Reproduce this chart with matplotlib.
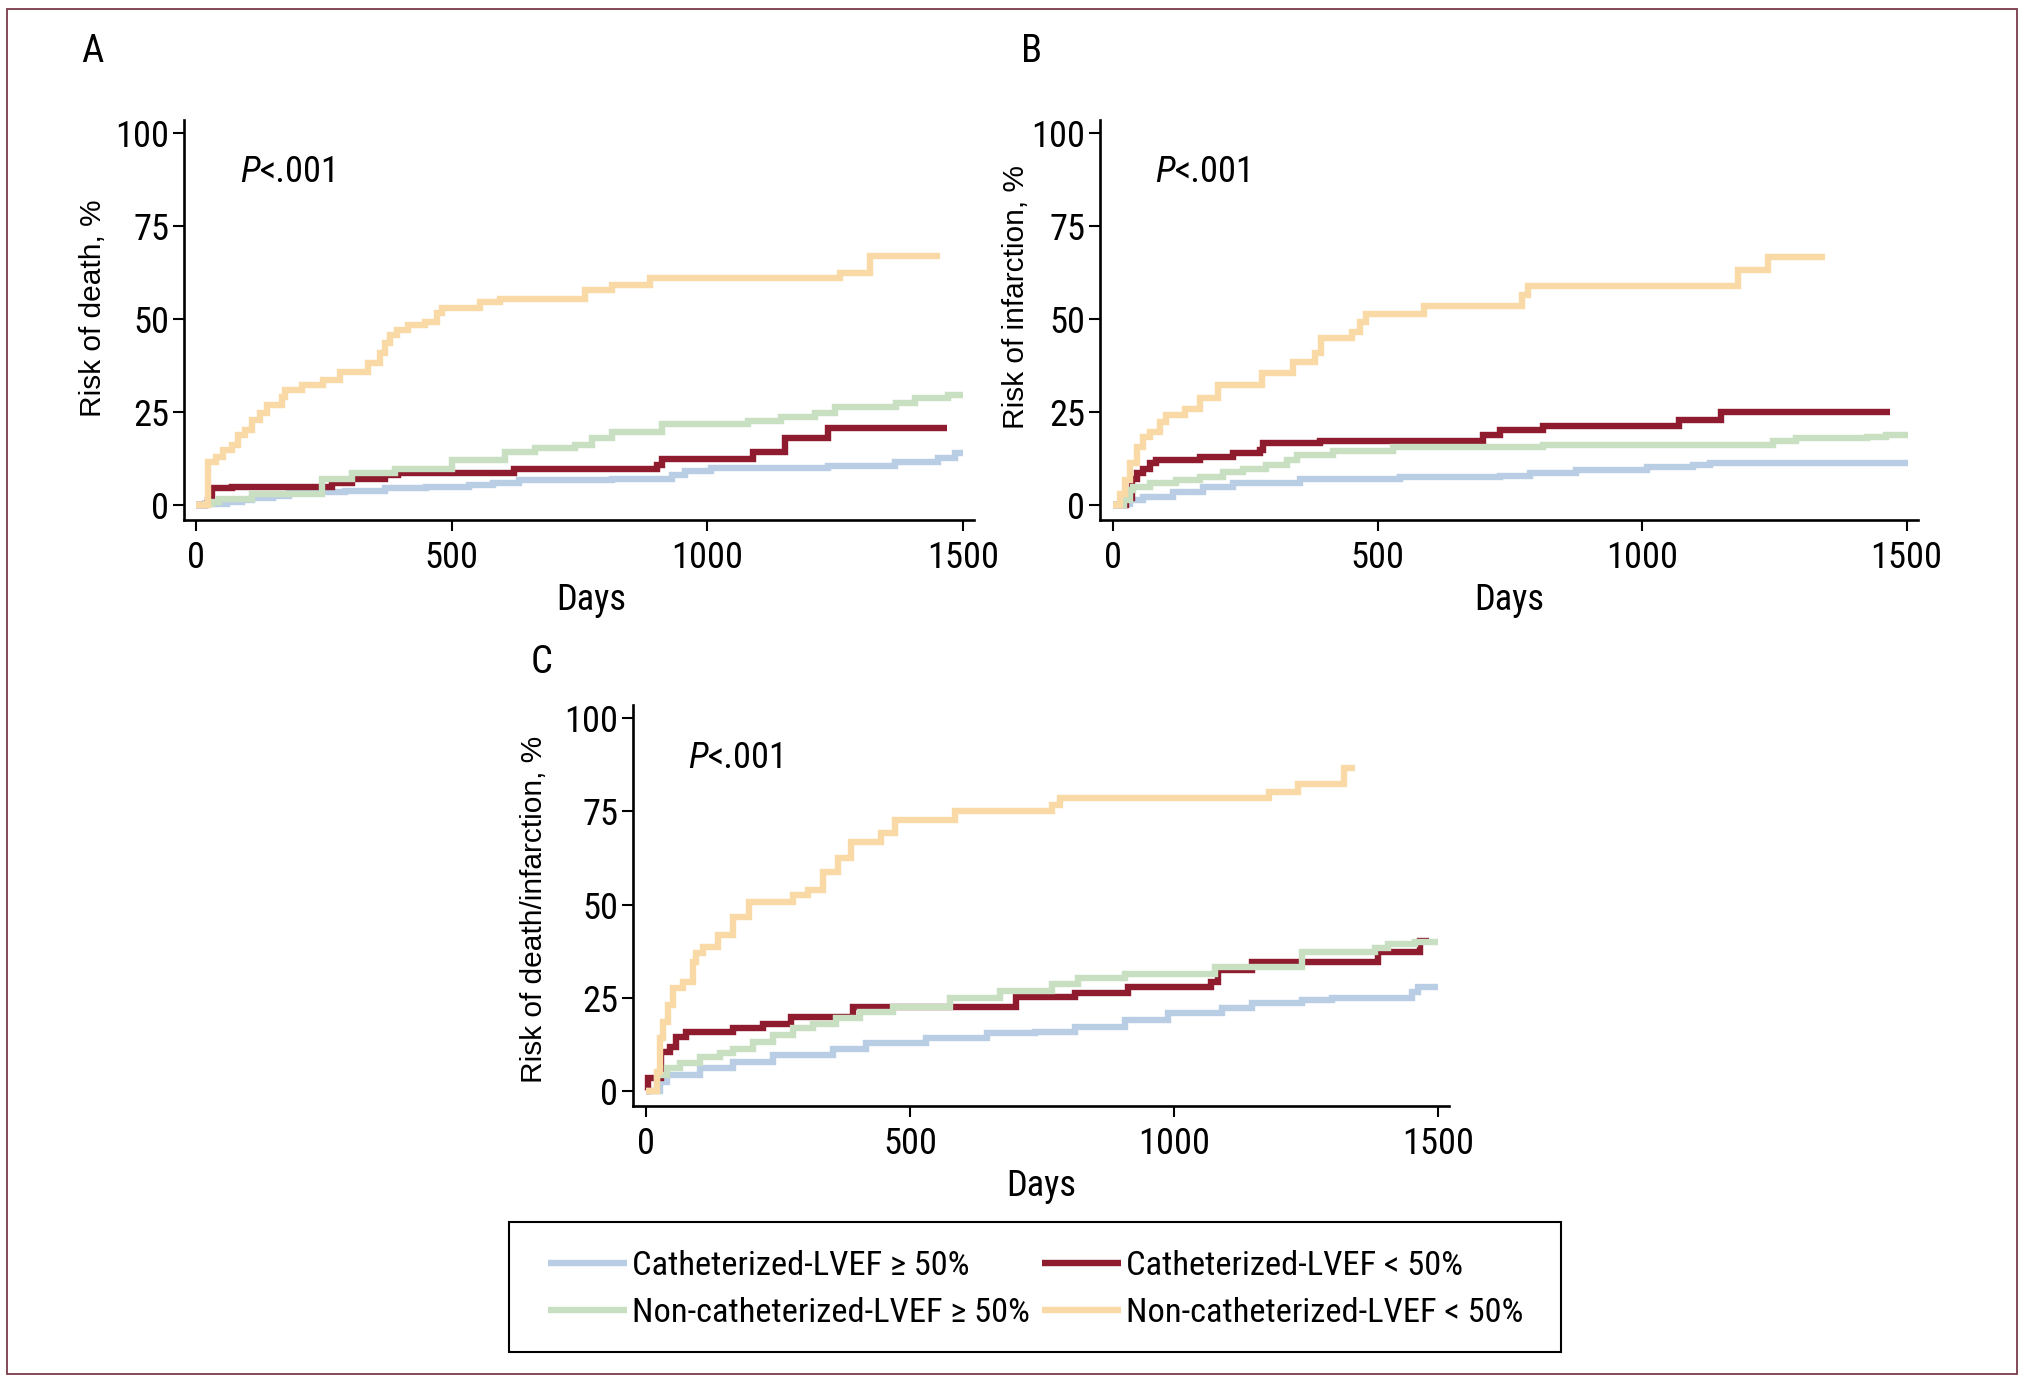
import matplotlib
matplotlib.use("Agg")
import matplotlib.pyplot as plt
from matplotlib import font_manager as fm
from matplotlib.font_manager import FontProperties
from matplotlib.textpath import TextPath
from matplotlib.lines import Line2D
from matplotlib.patches import Rectangle

# colours of the four groups
c_blue = '#b9cde5'
c_red = '#8e1b2e'
c_green = '#c9dfc1'
c_yellow = '#f9d9a6'

labels = ['Catheterized-LVEF \u2265 50%', 'Catheterized-LVEF < 50%',
          'Non-catheterized-LVEF \u2265 50%', 'Non-catheterized-LVEF < 50%']

xticks = [0, 500, 1000, 1500]
yticks = [0, 25, 50, 75, 100]

# ---- Panel A: risk of death ----
a_blue_t = [0, 20, 60, 90, 109, 150, 181, 240, 292, 370, 450, 533, 580, 631, 813, 930, 956, 1008, 1237, 1367, 1452, 1484, 1500]
a_blue_y = [0, 0.5, 1.0, 1.5, 1.9, 2.5, 3.3, 3.6, 4.0, 4.6, 5.0, 5.5, 6.0, 6.8, 7.2, 8.1, 9.3, 10.1, 10.5, 11.7, 12.6, 14.1, 14.1]
a_red_t = [0, 18, 24, 31, 70, 265, 305, 370, 396, 621, 901, 911, 1090, 1152, 1237, 1468]
a_red_y = [0, 0.5, 1.4, 4.6, 5.0, 5.9, 7.0, 8.1, 8.6, 9.7, 10.8, 12.4, 14.4, 18.0, 20.7, 20.7]
a_green_t = [0, 18, 31, 44, 109, 246, 305, 389, 500, 604, 663, 741, 774, 813, 911, 1080, 1145, 1211, 1250, 1370, 1406, 1471, 1501]
a_green_y = [0, 0.5, 1.0, 1.8, 3.1, 7.2, 8.6, 9.9, 12.2, 14.4, 15.3, 16.2, 18.0, 19.8, 21.8, 22.7, 23.8, 24.7, 26.3, 27.4, 28.7, 29.5, 29.5]
a_yellow_t = [0, 24, 40, 53, 70, 83, 96, 109, 125, 138, 168, 174, 207, 249, 282, 337, 360, 370, 379, 393, 415, 448, 471, 481, 555, 595, 761, 813, 888, 1259, 1318, 1455]
a_yellow_y = [0, 11.7, 13.0, 14.8, 16.2, 18.9, 20.2, 22.9, 24.7, 26.9, 29.2, 30.9, 32.3, 33.6, 35.9, 38.1, 40.8, 43.5, 45.7, 47.0, 48.4, 49.3, 51.5, 52.9, 54.6, 55.5, 57.8, 59.1, 60.9, 62.4, 66.9, 66.9]

# ---- Panel B: risk of infarction ----
b_blue_t = [0, 20, 32, 57, 114, 171, 227, 353, 542, 731, 788, 876, 1009, 1097, 1128, 1503]
b_blue_y = [0, 0.5, 1.4, 2.3, 3.6, 5.0, 6.1, 7.0, 7.5, 7.9, 8.6, 9.5, 10.2, 10.8, 11.3, 11.3]
b_red_t = [0, 25, 35, 45, 57, 70, 82, 164, 227, 278, 284, 391, 700, 731, 813, 1069, 1150, 1469]
b_red_y = [0, 2.0, 7.0, 8.6, 9.9, 11.3, 12.2, 12.9, 14.0, 15.0, 16.8, 17.3, 18.9, 20.2, 21.3, 22.9, 25.1, 25.1]
b_green_t = [0, 20, 32, 38, 70, 120, 164, 208, 246, 290, 328, 347, 416, 530, 813, 1248, 1292, 1425, 1462, 1503]
b_green_y = [0, 1.5, 4.1, 5.0, 5.9, 6.8, 7.7, 9.0, 9.9, 10.8, 12.2, 13.5, 14.7, 15.6, 16.2, 17.3, 18.0, 18.4, 18.9, 18.9]
b_yellow_t = [0, 13, 23, 32, 45, 57, 70, 89, 101, 136, 164, 199, 281, 341, 382, 394, 451, 467, 479, 587, 773, 785, 1182, 1239, 1346]
b_yellow_y = [0, 3.2, 6.8, 11.3, 15.7, 18.4, 19.8, 22.4, 24.2, 26.0, 28.7, 32.3, 35.4, 38.5, 40.8, 44.8, 46.6, 49.3, 51.3, 53.6, 56.4, 58.9, 63.2, 66.7, 66.7]

# ---- Panel C: risk of death/infarction ----
c_blue_t = [0, 26, 39, 102, 165, 240, 354, 417, 531, 645, 737, 812, 907, 989, 1090, 1147, 1242, 1299, 1450, 1463, 1500]
c_blue_y = [0, 2.5, 4.3, 6.1, 7.9, 9.7, 11.4, 12.8, 14.1, 15.5, 15.9, 17.2, 19.0, 20.8, 22.2, 23.5, 24.4, 25.0, 26.5, 28.0, 28.0]
c_red_t = [0, 4, 29, 45, 57, 76, 165, 222, 275, 392, 701, 813, 913, 1071, 1084, 1147, 1387, 1466, 1482]
c_red_y = [0, 3.4, 10.5, 11.9, 14.6, 15.9, 16.8, 18.1, 19.9, 22.6, 25.3, 26.2, 28.0, 29.3, 32.4, 34.5, 37.3, 40.2, 40.2]
c_green_t = [0, 20, 39, 64, 102, 140, 165, 203, 240, 278, 316, 360, 405, 468, 575, 670, 768, 819, 907, 1078, 1242, 1381, 1406, 1456, 1500]
c_green_y = [0, 4.3, 6.1, 7.4, 9.2, 10.1, 11.4, 13.2, 15.0, 16.8, 18.1, 19.5, 21.3, 22.6, 24.9, 26.8, 28.6, 30.4, 31.3, 33.3, 37.2, 38.3, 39.3, 40.0, 40.0]
c_yellow_t = [0, 20, 26, 32, 42, 51, 70, 89, 95, 108, 136, 165, 196, 278, 307, 335, 364, 389, 446, 471, 585, 768, 784, 1179, 1235, 1321, 1343]
c_yellow_y = [0, 5.2, 14.1, 18.6, 23.1, 27.5, 29.3, 34.7, 36.9, 38.7, 41.8, 46.7, 50.8, 52.5, 53.9, 58.8, 62.4, 66.8, 69.1, 72.7, 75.1, 76.7, 78.6, 80.1, 82.2, 86.5, 86.5]

W, H = 2025, 1383
LW = 4.6
REGULAR = ['Liberation Sans', 'DejaVu Sans']


def pick_narrow():
    # the original uses a condensed grotesque; take whatever condensed face exists
    entries = fm.fontManager.ttflist
    names = {e.name for e in entries}
    for n in ['Liberation Sans Narrow', 'Arial Narrow', 'Roboto Condensed',
              'Noto Sans Condensed', 'Open Sans Condensed', 'DejaVu Sans Condensed']:
        if n in names:
            return {'family': [n, 'DejaVu Sans'], 'stretch': 'normal'}
    for n in ['Liberation Sans', 'Roboto', 'Noto Sans', 'Open Sans', 'DejaVu Sans']:
        for e in entries:
            if e.name == n and e.stretch in ('condensed', 'semi-condensed',
                                             'extra-condensed', 'ultra-condensed'):
                return {'family': [n, 'DejaVu Sans'], 'stretch': e.stretch}
    return {'family': ['Liberation Sans', 'DejaVu Sans'], 'stretch': 'normal'}


NARROW = pick_narrow()

# scale the narrow size so the legend text keeps its width in the original (394 px)
probe = TextPath((0, 0), labels[2], size=100,
                 prop=FontProperties(family=NARROW['family'], stretch=NARROW['stretch']))
FS = min(25, 25 * 394 / (probe.get_extents().width * 25 / 100 * 100 / 72))
NF = dict(family=NARROW['family'], stretch=NARROW['stretch'])
TS = FS * 1.06   # tick labels / axis titles


def px_axes(fig, left, top, right, bottom):
    # axes rectangle from pixel edges (origin top-left)
    return fig.add_axes([left / W, 1 - bottom / H, (right - left) / W, (bottom - top) / H])


def km_panel(ax, curves, xlim, ylim, ylabel, label_y, ylabelpad, ptext_x, days_x=0.5):
    for t, y, col in curves:
        ax.step(t, y, where='post', color=col, lw=LW, solid_joinstyle='miter',
                solid_capstyle='butt')
    ax.set_xlim(*xlim)
    ax.set_ylim(*ylim)
    ax.set_xticks(xticks)
    ax.set_yticks(yticks)
    for s in ['top', 'right']:
        ax.spines[s].set_visible(False)
    for s in ['left', 'bottom']:
        ax.spines[s].set_linewidth(1.9)
    ax.tick_params(length=8, width=1.5, labelsize=TS)
    ax.tick_params(axis='y', pad=2.5)
    ax.tick_params(axis='x', pad=6.5)
    for lab in ax.get_xticklabels() + ax.get_yticklabels():
        lab.set_family(NF['family'])
        lab.set_stretch(NF['stretch'])
    ax.set_xlabel('Days', fontsize=TS, labelpad=4.5, **NF)
    ax.xaxis.label.set_x(days_x)
    ax.set_ylabel(ylabel, family=REGULAR, fontsize=21.5, labelpad=ylabelpad)
    ax.yaxis.label.set_y(label_y)
    tp = ax.text(ptext_x, 84.5, 'P', style='italic', fontsize=TS, va='bottom', **NF)
    ax.annotate('<.001', xy=(1, 0), xycoords=tp, va='bottom', ha='left',
                fontsize=TS, **NF)


fig = plt.figure(figsize=(W / 100, H / 100), dpi=100)

axA = px_axes(fig, 184, 120, 974, 519.6)
km_panel(axA, [(a_blue_t, a_blue_y, c_blue), (a_red_t, a_red_y, c_red),
               (a_green_t, a_green_y, c_green), (a_yellow_t, a_yellow_y, c_yellow)],
         (-23.5, 1521.6), (-3.8, 103.4), 'Risk of death, %', 0.53, 6, 86, days_x=0.515)

axB = px_axes(fig, 1100, 120, 1918, 519.6)
km_panel(axB, [(b_blue_t, b_blue_y, c_blue), (b_red_t, b_red_y, c_red),
               (b_green_t, b_green_y, c_green), (b_yellow_t, b_yellow_y, c_yellow)],
         (-24.6, 1521.7), (-3.8, 103.4), 'Risk of infarction, %', 0.557, 1, 79)

axC = px_axes(fig, 633, 705, 1449, 1106)
km_panel(axC, [(c_blue_t, c_blue_y, c_blue), (c_red_t, c_red_y, c_red),
               (c_green_t, c_green_y, c_green), (c_yellow_t, c_yellow_y, c_yellow)],
         (-24.6, 1520.8), (-4.0, 103.5), 'Risk of death/infarction, %', 0.491, 12, 80)

# panel letters
fig.text(81 / W, 1 - 62 / H, 'A', fontsize=FS * 1.12, va='baseline', **NF)
fig.text(1021 / W, 1 - 62 / H, 'B', fontsize=FS * 1.12, va='baseline', **NF)
fig.text(531 / W, 1 - 673 / H, 'C', fontsize=FS * 1.12, va='baseline', **NF)

# legend (row-major in the original: blue, red / green, yellow)
cols = [c_blue, c_green, c_red, c_yellow]
names = [labels[0], labels[2], labels[1], labels[3]]
handles = [Line2D([], [], color=c, lw=LW, solid_capstyle='butt') for c in cols]
fs_px = FS * 100 / 72
col1_w = 394 * FS / 25
fig.legend(handles, names, ncol=2, loc='upper left',
           bbox_to_anchor=(548 / W, 1 - 1250 / H), frameon=False, borderpad=0,
           borderaxespad=0, handlelength=79 / fs_px, handletextpad=5 / fs_px,
           columnspacing=max(0.2, (1044 - 632 - col1_w - 9) / fs_px),
           labelspacing=max(0.0, (46 - 1.17 * fs_px) / fs_px) + 9 / fs_px,
           prop=FontProperties(family=NF['family'], stretch=NF['stretch'], size=FS))
fig.add_artist(Rectangle((509 / W, 1 - 1352 / H), 1052 / W, 130 / H, fill=False,
                         lw=1.5, ec='black', transform=fig.transFigure))

# outer frame
fig.add_artist(Rectangle((7 / W, 9 / H), 2010 / W, 1365 / H, fill=False,
                         lw=1.3, ec='#7a3a4c', transform=fig.transFigure))

fig.savefig('out.png', dpi=100)
